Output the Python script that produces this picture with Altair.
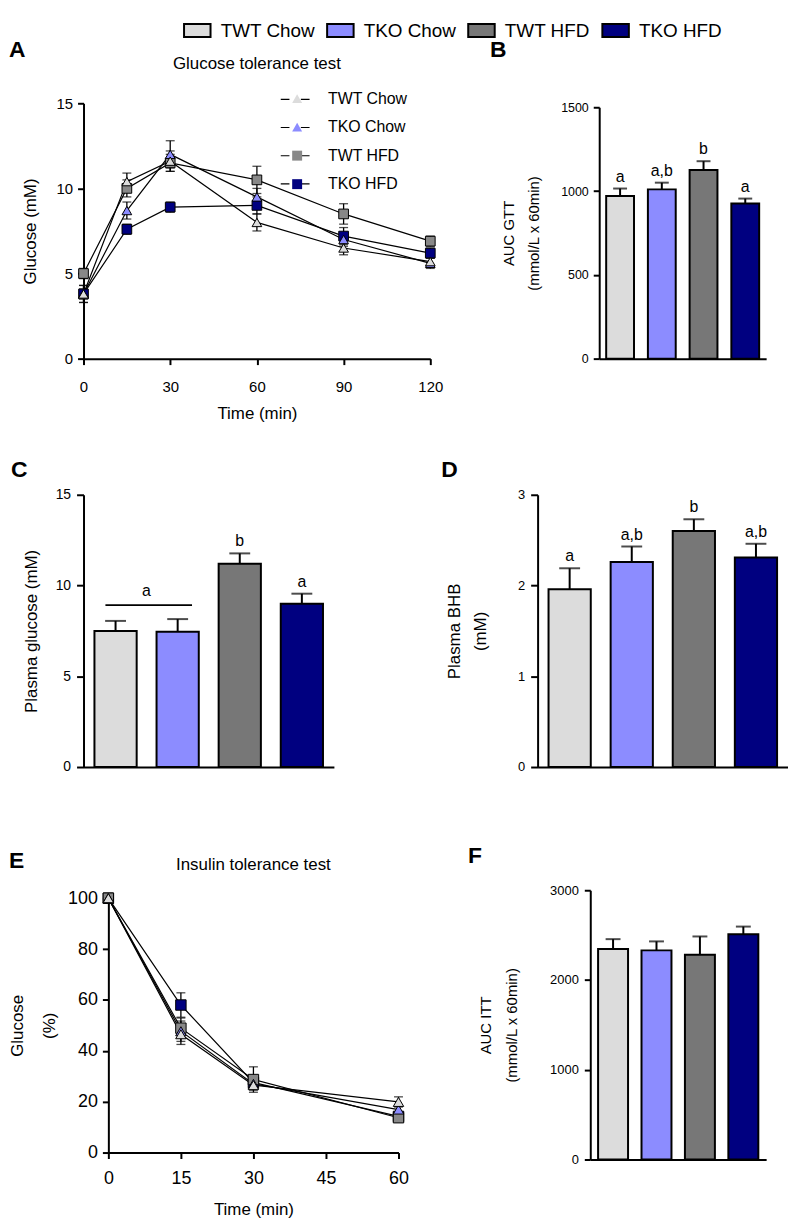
import altair as alt
import pandas as pd

FONT = "Liberation Sans"

groups = ["TWT Chow", "TKO Chow", "TWT HFD", "TKO HFD"]
bar_colors = ["#dcdcdc", "#8c8cff", "#777777", "#000080"]
marker_colors = ["#dcdcdc", "#8c8cff", "#888888", "#000080"]
marker_shapes = ["triangle-up", "triangle-up", "square", "square"]

# ---- Panel A: glucose tolerance test ----
gtt_time = [0, 15, 30, 60, 90, 120]
gtt_twt_chow = [3.8, 10.4, 11.6, 8.0, 6.5, 5.7]
gtt_tko_chow = [3.8, 8.7, 12.0, 9.5, 7.0, 5.6]
gtt_twt_hfd = [5.0, 10.0, 11.5, 10.5, 8.5, 6.9]
gtt_tko_hfd = [3.8, 7.6, 8.9, 9.0, 7.2, 6.2]
gtt_twt_chow_sem = [0.5, 0.5, 0.6, 0.5, 0.4, 0.3]
gtt_tko_chow_sem = [0.5, 0.5, 0.8, 0.5, 0.4, 0.3]
gtt_twt_hfd_sem = [0.3, 0.5, 0.5, 0.8, 0.6, 0.3]
gtt_tko_hfd_sem = [0.3, 0.3, 0.3, 0.5, 0.5, 0.3]

# ---- Panel B: AUC GTT ----
auc_gtt = [970, 1010, 1125, 925]
auc_gtt_sem = [45, 40, 53, 30]
auc_gtt_letters = ["a", "a,b", "b", "a"]

# ---- Panel C: plasma glucose ----
plasma_glucose = [7.5, 7.45, 11.2, 9.0]
plasma_glucose_sem = [0.55, 0.7, 0.57, 0.55]
plasma_glucose_letters = ["", "", "b", "a"]
bracket_from = ["TWT Chow"]
bracket_to = ["TKO Chow"]
bracket_y = [8.92]
bracket_label = ["a"]

# ---- Panel D: plasma BHB ----
plasma_bhb = [1.96, 2.26, 2.60, 2.31]
plasma_bhb_sem = [0.23, 0.17, 0.13, 0.15]
plasma_bhb_letters = ["a", "a,b", "b", "a,b"]

# ---- Panel E: insulin tolerance test ----
itt_time = [0, 15, 30, 60]
itt_twt_chow = [100, 46.5, 26.5, 19.9]
itt_tko_chow = [100, 47.7, 27.0, 16.9]
itt_twt_hfd = [100, 48.9, 28.7, 13.7]
itt_tko_hfd = [100, 58.0, 27.5, 14.2]
itt_twt_chow_sem = [0, 4.0, 2.0, 2.0]
itt_tko_chow_sem = [0, 4.0, 2.0, 1.5]
itt_twt_hfd_sem = [0, 4.0, 5.0, 1.5]
itt_tko_hfd_sem = [0, 4.8, 2.0, 1.5]

# ---- Panel F: AUC ITT ----
auc_itt = [2345, 2330, 2280, 2510]
auc_itt_sem = [110, 100, 205, 85]


def line_df(times, series, sems):
    rows = []
    for i, (g, vals, errs) in enumerate(zip(groups, series, sems)):
        for t, v, e in zip(times, vals, errs):
            rows.append({"group": g, "series": g + " line", "z": i, "time": t,
                         "value": v, "lo": v - e, "hi": v + e})
    return pd.DataFrame(rows)


def label_text(text, dx, dy, size, bold=False, align="left"):
    return alt.Chart(pd.DataFrame({"label": [text]})).mark_text(
        align=align, baseline="alphabetic", font=FONT, fontSize=size,
        fontWeight="bold" if bold else "normal", color="black"
    ).encode(text="label:N", x=alt.value(dx), y=alt.value(dy))


def line_panel(df, xdomain, xvalues, ydomain, yvalues, width, height, top_off, ytitle,
               title, title_size, title_dy, label_size, axis_title_size,
               ytpad, ylh, xlpad, xtpad, letter, ldx, ldy, msize,
               legend=None, line_legend=None):
    xs = alt.Scale(domain=xdomain, nice=False, zero=False)
    if top_off:
        ys = alt.Scale(domain=ydomain, nice=False, range=[height, top_off])
    else:
        ys = alt.Scale(domain=ydomain, nice=False)
    xax = alt.Axis(values=xvalues, title="Time (min)", labelFontSize=label_size,
                   titleFontSize=axis_title_size, tickSize=6, labelPadding=xlpad,
                   titlePadding=xtpad, labelFlush=False, format="d")
    yk = dict(values=yvalues, title=ytitle, labelFontSize=label_size,
              titleFontSize=axis_title_size, tickSize=6, labelPadding=5,
              titlePadding=ytpad, labelFlush=False, format="d")
    if ylh:
        yk["titleLineHeight"] = ylh
    yax = alt.Axis(**yk)
    x = alt.X("time:Q", scale=xs, axis=xax)
    base = alt.Chart(df)
    err_df = df[df["hi"] > df["lo"]]
    ebase = alt.Chart(err_df)
    rules = ebase.mark_rule(color="black", strokeWidth=1.3).encode(
        x=x, y=alt.Y("lo:Q", scale=ys, axis=yax), y2="hi:Q")
    cap_lo = ebase.mark_tick(color="black", thickness=1.3, size=9, orient="horizontal").encode(
        x=x, y=alt.Y("lo:Q", scale=ys, axis=yax))
    cap_hi = ebase.mark_tick(color="black", thickness=1.3, size=9, orient="horizontal").encode(
        x=x, y=alt.Y("hi:Q", scale=ys, axis=yax))
    series_domain = [g + " line" for g in groups]
    lines = base.mark_line(strokeWidth=1.2).encode(
        x=x, y=alt.Y("value:Q", scale=ys, axis=yax),
        stroke=alt.Stroke("series:N", scale=alt.Scale(domain=series_domain, range=["black"] * 4),
                          legend=line_legend))
    pts = base.mark_point(filled=True, size=msize, stroke="black", strokeWidth=1, opacity=1).encode(
        x=x, y=alt.Y("value:Q", scale=ys, axis=yax),
        fill=alt.Fill("group:N", scale=alt.Scale(domain=groups, range=marker_colors), legend=legend),
        shape=alt.Shape("group:N", scale=alt.Scale(domain=groups, range=marker_shapes), legend=legend),
        order=alt.Order("z:Q", sort="descending"),
    )
    layers = [rules, cap_lo, cap_hi, lines, pts,
              label_text(title, width / 2, title_dy, title_size, align="center"),
              label_text(letter, ldx, ldy, 23, bold=True)]
    return alt.layer(*layers).properties(width=width, height=height)


def bar_panel(means, sems, letters, width, height, top_off, ydomain, yvalues, ytitle,
              pad_inner, pad_outer, cap, label_size, title_size, tick, lpad, tpad,
              ylh, letter, ldx, ldy, legend=None, bracket=False):
    df = pd.DataFrame({"group": groups, "value": means,
                       "hi": [m + s for m, s in zip(means, sems)], "letter": letters})
    xs = alt.Scale(domain=groups, paddingInner=pad_inner, paddingOuter=pad_outer)
    xax = alt.Axis(labels=False, ticks=False, title=None, domain=True)
    if top_off:
        ys = alt.Scale(domain=ydomain, nice=False, range=[height, top_off])
    else:
        ys = alt.Scale(domain=ydomain, nice=False)
    yk = dict(values=yvalues, title=ytitle, labelFontSize=label_size,
              titleFontSize=title_size, tickSize=tick, labelPadding=lpad,
              titlePadding=tpad, labelFlush=False, format="d")
    if ylh:
        yk["titleLineHeight"] = ylh
    yax = alt.Axis(**yk)
    x = alt.X("group:N", scale=xs, axis=xax, sort=groups)
    base = alt.Chart(df)
    bars = base.mark_bar(stroke="black", strokeWidth=2).encode(
        x=x, y=alt.Y("value:Q", scale=ys, axis=yax),
        color=alt.Color("group:N", scale=alt.Scale(domain=groups, range=bar_colors), legend=legend))
    err = base.mark_rule(color="black", strokeWidth=2).encode(
        x=x, y=alt.Y("value:Q", scale=ys, axis=yax), y2="hi:Q")
    caps = base.mark_tick(color="black", thickness=2, size=cap, orient="horizontal").encode(
        x=x, y=alt.Y("hi:Q", scale=ys, axis=yax))
    txt = base.mark_text(font=FONT, fontSize=16, baseline="alphabetic", dy=-7, color="black").encode(
        x=x, y=alt.Y("hi:Q", scale=ys, axis=yax), text="letter:N")
    layers = [err, bars, caps, txt]
    if bracket:
        bdf = pd.DataFrame({"from": bracket_from, "to": bracket_to, "y": bracket_y, "label": bracket_label})
        bb = alt.Chart(bdf)
        brule = bb.mark_rule(color="black", strokeWidth=2).encode(
            x=alt.X("from:N", scale=xs, axis=xax, bandPosition=0.26),
            x2=alt.X2("to:N", bandPosition=0.84),
            y=alt.Y("y:Q", scale=ys, axis=yax))
        btxt = bb.mark_text(font=FONT, fontSize=16, baseline="alphabetic", dx=31, dy=-9, color="black").encode(
            x=alt.X("from:N", scale=xs, axis=xax, bandPosition=0.5),
            y=alt.Y("y:Q", scale=ys, axis=yax), text="label:N")
        layers += [brule, btxt]
    layers.append(label_text(letter, ldx, ldy, 23, bold=True))
    return alt.layer(*layers).properties(width=width, height=height)


def spacer(w, h):
    return alt.Chart(pd.DataFrame({"s": [0]})).mark_point(opacity=0).properties(width=w, height=h)


legend_a = alt.Legend(orient="none", legendX=207, legendY=-12.7, title=None, direction="vertical",
                      labelFont=FONT, labelFontSize=16, labelColor="black", labelOffset=23,
                      symbolStrokeColor="black", symbolStrokeWidth=1, symbolOpacity=1,
                      symbolSize=100, rowPadding=12.7)

line_legend_a = alt.Legend(orient="none", legendX=200.5, legendY=-16.5, title=None, direction="vertical",
                           labelFont=FONT, labelFontSize=16, labelExpr="''", labelOffset=0,
                           symbolType="M-1.26,0H-0.5M0.5,0H1.26", symbolSize=529,
                           symbolStrokeWidth=1.2, symbolStrokeColor="black", rowPadding=7.4)

legend_top = alt.Legend(orient="none", legendX=-414, legendY=-91.5, title=None, direction="horizontal",
                        padding=0, labelFont=FONT, labelFontSize=19, labelColor="black",
                        labelOffset=14, labelBaseline="top",
                        symbolType="M-2.05,0.32H2.05V2.32H-2.05Z", symbolSize=169,
                        symbolStrokeColor="black", symbolStrokeWidth=2, symbolOpacity=1,
                        columnPadding=8)

df_gtt = line_df(gtt_time, [gtt_twt_chow, gtt_tko_chow, gtt_twt_hfd, gtt_tko_hfd],
                 [gtt_twt_chow_sem, gtt_tko_chow_sem, gtt_twt_hfd_sem, gtt_tko_hfd_sem])
df_itt = line_df(itt_time, [itt_twt_chow, itt_tko_chow, itt_twt_hfd, itt_tko_hfd],
                 [itt_twt_chow_sem, itt_tko_chow_sem, itt_twt_hfd_sem, itt_tko_hfd_sem])

panel_a = line_panel(df_gtt, [0, 120], [0, 30, 60, 90, 120], [0, 15], [0, 5, 10, 15],
                     349, 257, 0, "Glucose (mM)", "Glucose tolerance test", 17, -35, 15, 17,
                     17, None, 15, 11, "A", -75, -47, 95,
                     legend=legend_a, line_legend=line_legend_a)

panel_b = bar_panel(auc_gtt, auc_gtt_sem, auc_gtt_letters, 168, 257, 4, [0, 1500],
                    [0, 500, 1000, 1500], ["AUC GTT", "(mmol/L x 60min)"], 0.333, 0.167, 14,
                    12.5, 15, 6, 5, 19, 25, "B", -110, -47, legend=legend_top)

panel_c = bar_panel(plasma_glucose, plasma_glucose_sem, plasma_glucose_letters, 252, 274, 0,
                    [0, 15], [0, 5, 10, 15], "Plasma glucose (mM)", 0.32, 0.176, 21,
                    14, 17, 7, 6, 15, None, "C", -73, -18, bracket=True)

panel_d = bar_panel(plasma_bhb, plasma_bhb_sem, plasma_bhb_letters, 252, 274, 0,
                    [0, 3], [0, 1, 2, 3], ["Plasma BHB", "(mM)"], 0.32, 0.176, 21,
                    13, 17, 7, 6, 28, 26, "D", -97, -18)

panel_e = line_panel(df_itt, [0, 60], [0, 15, 30, 45, 60], [0, 100], [0, 20, 40, 60, 80, 100],
                     292, 264, 8, ["Glucose", "(%)"], "Insulin tolerance test", 17, -20, 18, 17,
                     9, 32, 11, 14, "E", -100, -22, 110)

panel_f = bar_panel(auc_itt, auc_itt_sem, ["", "", "", ""], 177, 271, 0, [0, 3000],
                    [0, 1000, 2000, 3000], ["AUC ITT", "(mmol/L x 60min)"], 0.31, 0.18, 15,
                    13, 15, 6, 6, 30, 26, "F", -123, -27)

RES = dict(color="independent", fill="independent", shape="independent", stroke="independent")

row1 = alt.hconcat(spacer(75, 1), panel_a, spacer(170, 1), panel_b,
                   spacing=0, bounds="flush").resolve_scale(**RES)
row2 = alt.hconcat(spacer(75, 315), panel_c, spacer(205, 1), panel_d,
                   spacing=0, bounds="flush").resolve_scale(**RES)
row3 = alt.hconcat(spacer(100, 1), panel_e, spacer(193, 1), panel_f,
                   spacing=0, bounds="flush").resolve_scale(**RES)

chart = alt.vconcat(row1, row2, row3, spacing=38).properties(padding=0).resolve_scale(
    **RES
).configure(font=FONT).configure_view(strokeWidth=0).configure_axis(
    domainColor="black", domainWidth=2, tickColor="black", tickWidth=2,
    labelColor="black", titleColor="black", labelFont=FONT, titleFont=FONT,
    titleFontWeight="normal", grid=False,
)

chart.save("out.html", embed_options={"renderer": "svg", "actions": False})
